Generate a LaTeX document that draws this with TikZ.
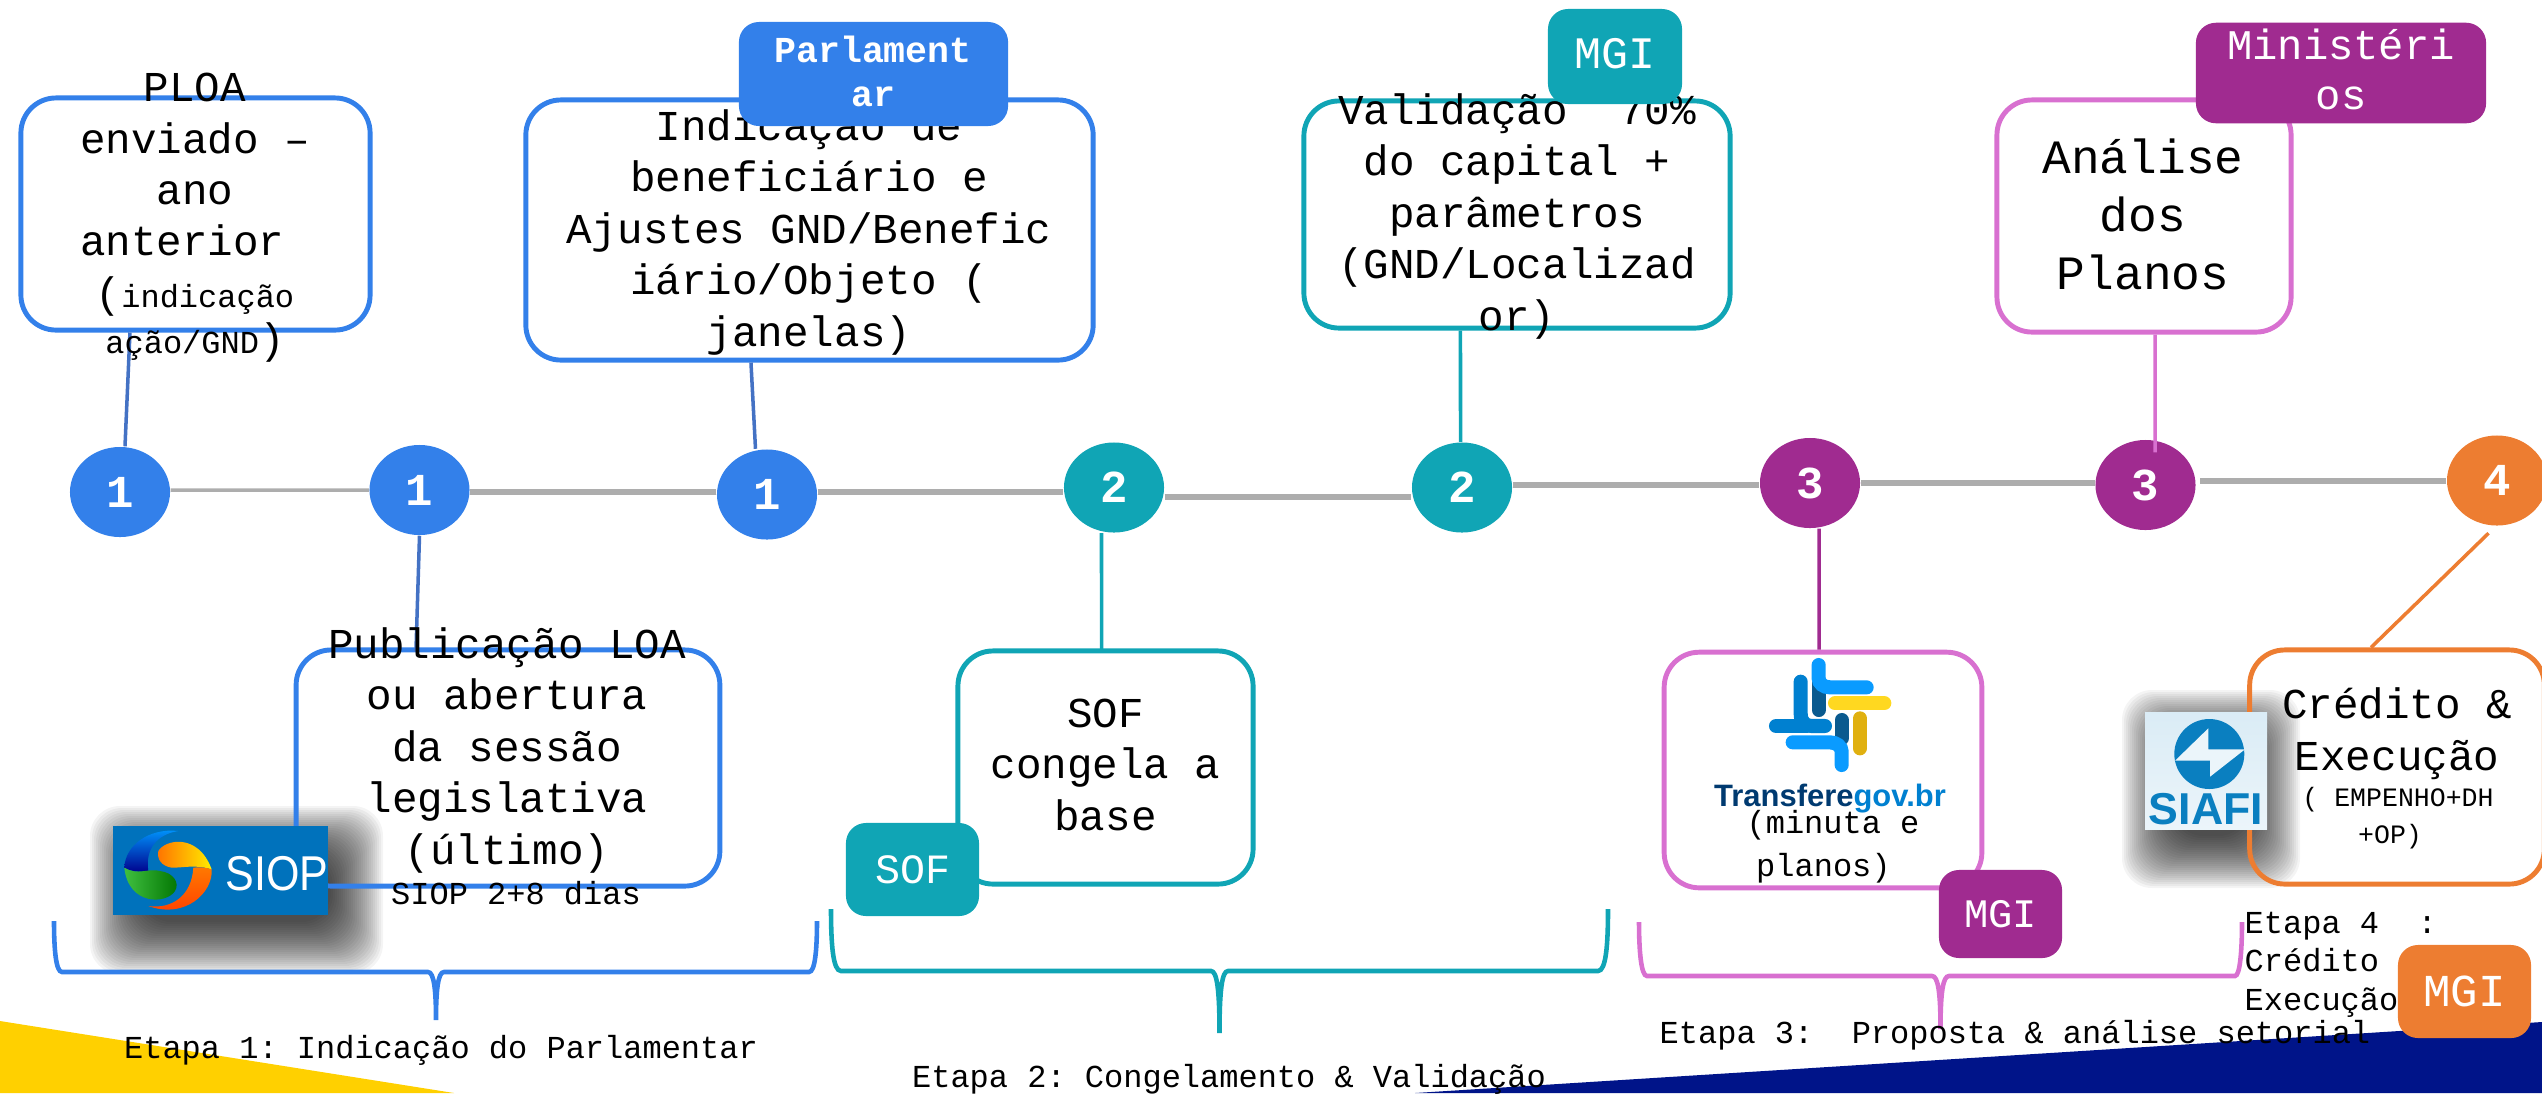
\documentclass[tikz,border=0pt]{standalone}
\usepackage{fontspec}
\setmainfont{Liberation Mono}
\newfontfamily\logofont{Liberation Sans}
\usepackage{tikz}
\usetikzlibrary{shapes.geometric,positioning}
\definecolor{stageblue}{HTML}{3380EA}
\definecolor{stageteal}{HTML}{10A5B5}
\definecolor{stagepurple}{HTML}{A02B90}
\definecolor{stagepink}{HTML}{D870D0}
\definecolor{stageorange}{HTML}{ED7D31}
\definecolor{linkblue}{HTML}{4472C4}
\definecolor{railgray}{HTML}{ADADAD}
\definecolor{cornergold}{HTML}{FFD000}
\definecolor{cornernavy}{HTML}{001489}
\definecolor{siopblue}{HTML}{0072BC}
\definecolor{siafiblue}{HTML}{0A7FC0}
\definecolor{govnavy}{HTML}{003A70}
\definecolor{govdark}{HTML}{0A5A8F}
\definecolor{govmid}{HTML}{0080D0}
\definecolor{govlight}{HTML}{0A9BFF}
\definecolor{govyellow}{HTML}{FFD820}
\definecolor{govgold}{HTML}{E0B010}
\newcommand{\fbig}{\fontsize{12.1}{14.6}\selectfont}
\newcommand{\fmid}{\fontsize{9.1}{10.9}\selectfont}
\newcommand{\softshadow}[4]{\foreach \e in {-26,-24,...,26}
  \fill[black,opacity=.045,rounded corners=.3cm] (#1-\e,#2-\e) rectangle (#3+\e,#4+\e);}
\tikzset{
  stepbox/.style={draw, rounded corners=.35cm, line width=1.4pt, inner sep=0pt},
  dot/.style={ellipse, minimum width=1cm, minimum height=.9cm, inner sep=0pt, text=white,
    font=\fontsize{13}{15}\selectfont\bfseries},
  rail/.style={draw=railgray, line width=1.6pt},
  link/.style={line width=1pt},
  tagbox/.style={rounded corners=.2cm, inner sep=0pt, text=white, align=center},
  brace/.style={line width=1.3pt},
  txt/.style={align=center, anchor=base, inner sep=0pt, font=\fbig},
  smalltxt/.style={align=center, anchor=base, inner sep=0pt, font=\fmid},
}
\begin{document}
\frenchspacing
\begin{tikzpicture}[x=.01cm,y=-.01cm]
  \useasboundingbox (0,0) rectangle (2542,1093);
  % corners
  \fill[cornergold] (0,1021) -- (454,1093) -- (0,1093) -- cycle;
  \fill[cornernavy] (1415,1093) -- (2542,1022) -- (2542,1093) -- cycle;
  % shadows of the logos
  \softshadow{116}{832}{357}{948}
  \softshadow{2148}{716}{2274}{862}
  % boxes
  \node[stepbox, draw=stageblue, minimum width=3.49cm, minimum height=2.32cm] (ploa) at (195.5,214) {};
  \node[stepbox, draw=stageblue, minimum width=5.67cm, minimum height=2.6cm] (benef) at (809.5,230) {};
  \node[stepbox, draw=stageblue, minimum width=4.235cm, minimum height=2.36cm] (loa) at (508,768) {};
  \node[stepbox, draw=stageteal, minimum width=2.95cm, minimum height=2.33cm] (sofbox) at (1105.5,767.5) {};
  \node[stepbox, draw=stageteal, minimum width=4.26cm, minimum height=2.27cm] (valid) at (1517,214.5) {};
  \node[stepbox, draw=stagepink, minimum width=3.175cm, minimum height=2.355cm] (transf) at (1823,770) {};
  \node[stepbox, draw=stagepink, minimum width=2.94cm, minimum height=2.32cm] (plans) at (2144,216) {};
  \node[stepbox, draw=stageorange, minimum width=2.945cm, minimum height=2.34cm] (credit) at (2397,767) {};
  % braces
  \draw[brace, stageblue] (54,921) .. controls (54,950) and (56,972) .. (62,972) -- (428,972)
    .. controls (434,972) and (436,990) .. (436,1020) .. controls (436,990) and (438,972) .. (444,972)
    -- (809,972) .. controls (815,972) and (817,950) .. (817,921);
  \draw[brace, stageteal] (831,909) .. controls (831,945) and (833,971) .. (841,971) -- (1211,971)
    .. controls (1217,971) and (1219.5,990) .. (1219.5,1033) .. controls (1219.5,990) and (1222,971) .. (1228,971)
    -- (1598,971) .. controls (1606,971) and (1608,945) .. (1608,909);
  \draw[brace, stagepink] (1639,922) .. controls (1639,950) and (1641,976) .. (1647,976) -- (1932,976)
    .. controls (1938,976) and (1940.5,992) .. (1940.5,1029) .. controls (1940.5,992) and (1943,976) .. (1949,976)
    -- (2235,976) .. controls (2240,976) and (2242,950) .. (2242,922);
  % nodes
  \node[dot, fill=stageblue] (c1) at (120,492) {1};
  \node[dot, fill=stageblue] (c2) at (419.5,490) {1};
  \node[dot, fill=stageblue] (c3) at (767,494.5) {1};
  \node[dot, fill=stageteal] (c4) at (1114,487.5) {2};
  \node[dot, fill=stageteal] (c5) at (1462,487.5) {2};
  \node[dot, fill=stagepurple] (c6) at (1810,483) {3};
  \node[dot, fill=stagepurple] (c7) at (2145.5,485) {3};
  \node[dot, fill=stageorange] (c8) at (2497,480.5) {4};
  % timeline
  \draw[rail, line width=1pt] ([yshift=.02cm]c1.east) -- (c2.west);
  \draw[rail] (c2.east |- 0,492) -- (c3.west |- 0,492);
  \draw[rail] (c3.east |- 0,492) -- (c4.west |- 0,492);
  \draw[rail] (c4.east |- 0,497) -- (c5.west |- 0,497);
  \draw[rail] (c5.east |- 0,485) -- (c6.west |- 0,485);
  \draw[rail] (c6.east |- 0,483) -- (c7.west |- 0,483);
  \draw[rail] ([xshift=.04cm]c7.east |- 0,481) -- (c8.west |- 0,481);
  % links
  \draw[link, linkblue] ([xshift=.05cm]c1.north) -- ([xshift=-.655cm]ploa.south);
  \draw[link, linkblue] (c2.south) -- ([xshift=-.92cm,yshift=-.04cm]loa.north);
  \draw[link, linkblue] ([xshift=-.115cm]c3.north) -- ([xshift=-.585cm]benef.south);
  \draw[link, stageteal] ([xshift=-.125cm]c4.south) -- ([xshift=-.04cm,yshift=-.04cm]sofbox.north);
  \draw[link, stageteal] ([xshift=-.015cm]c5.north) -- ([xshift=-.565cm]valid.south);
  \draw[link, stagepurple] ([xshift=.09cm]c6.south) -- ([xshift=-.04cm]transf.north);
  \draw[link, stagepink] ([xshift=.095cm,yshift=-.13cm]c7.north) -- ([xshift=.11cm]plans.south);
  \draw[link, stageorange] ([xshift=-.085cm,yshift=-.07cm]c8.south) -- ([xshift=-.26cm]credit.north);
  % texts
  \node[txt] (ploatext) at (195,353) {PLOA\\enviado –\\ano\\anterior~\mbox{}\\({\fmid indicação}\\[-1.6pt]{\fmid ação/GND})};
  \node[txt] (beneftext) at (809,346) {Indicação de\\beneficiário e\\Ajustes GND/Benefic\\iário/Objeto (\\janelas)};
  \node[txt] (validtext) at (1517,330) {Validação~~70\%\\do capital +\\parâmetros\\(GND/Localizad\\or)};
  \node[txt, font=\fontsize{13.6}{16.4}\selectfont] (planstext) at (2143,289) {Análise\\dos\\Planos};
  \node[txt] (loatext) at (507,864) {Publicação LOA\\ou abertura\\da sessão\\legislativa\\(último)};
  \node[smalltxt] (siopdays) at (516,904) {SIOP 2+8 dias};
  \node[txt] (softext) at (1105.5,830) {SOF\\congela a\\base};
  \node[smalltxt, font=\fontsize{9.1}{12}\selectfont] (transftext) at (1833,876) {(minuta e\\planos)~\mbox{}};
  \node[txt] (credittext) at (2397,770) {Crédito \&\\Execução};
  \node[smalltxt, font=\fontsize{7.55}{10.3}\selectfont] (empenho) at (2398,843) {( EMPENHO+DH\\+OP)~\mbox{}};
  \node[smalltxt] (etapa1) at (441,1058) {Etapa 1: Indicação do Parlamentar};
  \node[smalltxt] (etapa2) at (1229,1087) {Etapa 2: Congelamento \& Validação};
  \node[smalltxt] (etapa3) at (2015,1043) {Etapa 3:~~Proposta \& análise setorial};
  \node[smalltxt, align=left, anchor=base west] (etapa4) at (2244,1010) {Etapa 4~~:\\Crédito\\Execução};
  % tags
  \node[tagbox, fill=stageblue, minimum width=2.69cm, minimum height=1.04cm] (parl) at (873.5,74) {};
  \node[txt, text=white, font=\fontsize{10.4}{12.4}\selectfont\bfseries] (parltext) at (873,106) {Parlament\\ar};
  \node[tagbox, fill=stageteal, minimum width=1.34cm, minimum height=.95cm] (mgiteal) at (1615,56.5) {};
  \node[txt, text=white, font=\fontsize{12.8}{15}\selectfont] (mgitealtext) at (1615,68.5) {MGI};
  \node[tagbox, fill=stagepurple, minimum width=2.9cm, minimum height=1.005cm] (minist) at (2341,73) {};
  \node[txt, text=white, font=\fontsize{12}{14.2}\selectfont] (ministtext) at (2341,109) {Ministéri\\os};
  \node[tagbox, fill=stageteal, minimum width=1.33cm, minimum height=.93cm, font=\fontsize{11.85}{14}\selectfont] (sof) at (912.5,869.5) {SOF};
  \node[tagbox, fill=stagepurple, minimum width=1.23cm, minimum height=.88cm, font=\fontsize{11.5}{14}\selectfont] (mgipurple) at (2000.5,914) {MGI};
  \node[tagbox, fill=stageorange, minimum width=1.33cm, minimum height=.93cm, font=\fontsize{13}{15}\selectfont] (mgiorange) at (2464.5,991.5) {MGI};
  % siop logo
  \fill[siopblue] (113,826) rectangle (328,915);
  \begin{scope}
    \clip (113,826) rectangle (328,915);
    \node[text=white, inner sep=0pt, anchor=base, xscale=.88, font=\logofont\fontsize{13.9}{16}\selectfont] (sioplabel) at (277,890) {SIOP};
  \end{scope}
  \begin{scope}[shift={(115,826)},scale=.3333]
    \shade[bottom color=blue!55!black, top color=cyan!60!blue] (28,125) .. controls (30,60) and (100,5) .. (190,15)
      .. controls (125,25) and (90,70) .. (100,135) .. controls (70,140) and (45,135) .. (28,125) -- cycle;
    \shade[left color=green!50!gray, right color=green!45!black] (28,125) .. controls (70,150) and (100,125) .. (135,135)
      .. controls (175,140) and (195,170) .. (180,195) .. controls (155,235) and (40,240) .. (28,125) -- cycle;
    \shade[left color=orange!90!red, right color=yellow!85!orange] (130,75) .. controls (150,40) and (250,20) .. (290,130)
      .. controls (240,115) and (210,125) .. (170,125) .. controls (140,120) and (125,100) .. (130,75) -- cycle;
    \shade[top color=orange!95!red, bottom color=red!55!orange] (290,130) .. controls (295,200) and (210,280) .. (100,240)
      .. controls (170,250) and (230,210) .. (235,125) .. controls (255,122) and (275,125) .. (290,130) -- cycle;
  \end{scope}
  % transferegov logo
  \begin{scope}[shift={(1700,650)},scale=.3333,line width=4pt,line cap=round]
    \draw[govmid] (228,228) -- (320,228);
    \draw[govdark] (356,100) -- (356,180);
    \draw[govmid] (302,95) -- (302,190) .. controls (302,215) and (315,228) .. (335,228) -- (375,228);
    \draw[govlight] (356,45) -- (356,85) .. controls (356,100) and (370,112) .. (390,112) -- (500,112);
    \draw[govdark] (425,210) -- (425,265);
    \draw[govlight] (278,277) -- (390,277) .. controls (410,277) and (425,290) .. (425,305) -- (425,345);
    \draw[govyellow] (405,160) -- (553,160);
    \draw[govgold] (480,205) -- (480,295);
  \end{scope}
  \node[inner sep=0pt, anchor=base, font=\logofont\fontsize{8.8}{10}\selectfont\bfseries] (transflogo) at (1830,806.5) {\textcolor{govnavy}{Transfere}\textcolor{govmid}{gov.br}};
  % siafi logo
  \shade[top color=siafiblue!15!white, bottom color=siafiblue!8!white] (2145,712) rectangle (2267,829);
  \fill[siafiblue] (2209.3,754) circle (35);
  \fill[siafiblue!8!white] (2208.3,728.3) -- (2175,760.7) -- (2210,760.7) -- (2210,776.7) -- (2245,749.3) -- (2208.3,749.3) -- cycle;
  \node[text=siafiblue, inner sep=0pt, anchor=base, font=\logofont\fontsize{12.7}{15}\selectfont\bfseries] (siafilabel) at (2206,824) {SIAFI};
\end{tikzpicture}
\end{document}
